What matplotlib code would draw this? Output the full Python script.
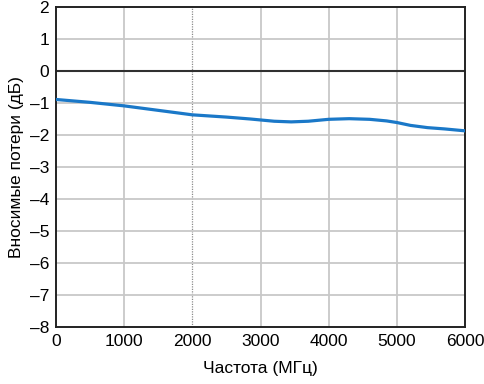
import numpy as np
import matplotlib.pyplot as plt
from matplotlib.ticker import FuncFormatter

plt.rcParams['font.family'] = ['Liberation Sans', 'DejaVu Sans']

# curve
freq = [0, 500, 1000, 1500, 2000, 2500, 2850, 3200, 3450, 3700, 4000, 4300, 4600, 4850, 5000, 5200, 5450, 5700, 6000]
loss = [-0.89, -0.98, -1.09, -1.23, -1.37, -1.44, -1.50, -1.57, -1.59, -1.57, -1.51, -1.49, -1.51, -1.56, -1.61, -1.70, -1.77, -1.81, -1.87]

xticks = [0, 1000, 2000, 3000, 4000, 5000, 6000]
yticks = [-8, -7, -6, -5, -4, -3, -2, -1, 0, 1, 2]

fig = plt.figure(figsize=(4.85, 3.84), dpi=100)
ax = fig.add_axes([0.1155, 0.1484, 0.8433, 0.8334])

ax.set_xlim(0, 6000)
ax.set_ylim(-8, 2)
ax.set_xticks(xticks)
ax.set_yticks(yticks)

# grid by hand: solid light lines, dotted at 2000
for x in xticks[1:-1]:
    if x == 2000:
        ax.axvline(x, color='#8c8c8c', lw=0.9, ls=(0, (1, 1)), zorder=1)
    else:
        ax.axvline(x, color='#c8c8c8', lw=1.3, zorder=1)
for y in yticks[1:-1]:
    if y == 0:
        ax.axhline(y, color='#303030', lw=1.5, zorder=2)
    else:
        ax.axhline(y, color='#c8c8c8', lw=1.3, zorder=1)

ax.plot(freq, loss, color='#1a78c8', lw=2.3, zorder=3)

for s in ax.spines.values():
    s.set_linewidth(1.4)
    s.set_color('#222222')

ax.tick_params(length=0, labelsize=12.5, pad=5)
ax.yaxis.set_major_formatter(FuncFormatter(lambda v, p: str(int(v)).replace('-', '\u2013')))
ax.set_xlabel('Частота (МГц)', fontsize=12.5, labelpad=9)
ax.set_ylabel('Вносимые потери (дБ)', fontsize=12.5, labelpad=4)

fig.savefig('out.png', dpi=100)
